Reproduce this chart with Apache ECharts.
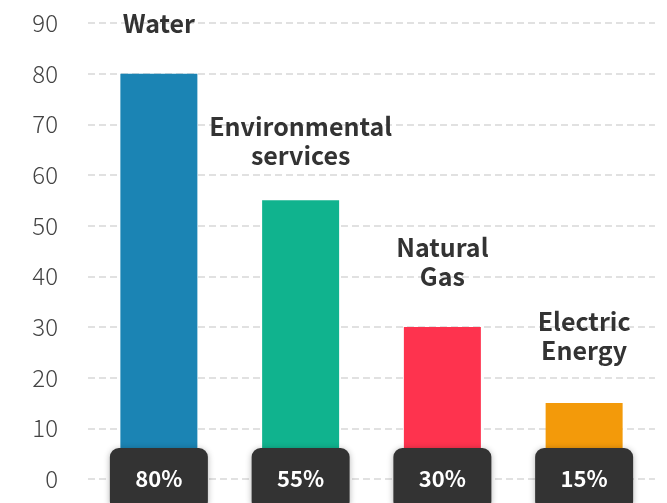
<!DOCTYPE html>
<html><head><meta charset="utf-8">
<script src="https://cdn.jsdelivr.net/npm/echarts@6/dist/echarts.min.js"></script>
<style>html,body{margin:0;padding:0;background:#fff}#c{width:667px;height:503px}</style>
</head><body><div id="c"></div>
<script>
const categories = ['Water', 'Environmental\nservices', 'Natural\nGas', 'Electric\nEnergy'];
const values = [80, 55, 30, 15];
const yTicks = [0, 10, 20, 30, 40, 50, 60, 70, 80, 90];
const colors = ['#1b84b4', '#10b38e', '#fe334e', '#f39a0a'];
const labelGaps = [36, 30, 36, 38];

const FONT = '"Noto Sans CJK SC", "Noto Sans", sans-serif';
const chart = echarts.init(document.getElementById('c'));
chart.setOption({
  animation: false,
  grid: { left: 88, right: 12, top: 23, bottom: 24, containLabel: false, outerBoundsMode: 'none' },
  xAxis: {
    type: 'category',
    data: categories,
    z: 10,
    axisLine: { show: false },
    axisTick: { show: false },
    axisLabel: {
      margin: 0,
      verticalAlign: 'middle',
      formatter: (v, i) => values[i] + '%',
      color: '#fff',
      fontFamily: FONT,
      fontWeight: 'bold',
      fontSize: 22,
      backgroundColor: '#333',
      borderRadius: 9,
      width: 98,
      align: 'center',
      lineHeight: 24,
      padding: [19, 0],
      shadowColor: 'rgba(0,0,0,0.3)',
      shadowBlur: 6,
      shadowOffsetY: 1
    }
  },
  yAxis: {
    type: 'value',
    min: yTicks[0],
    max: yTicks[yTicks.length - 1],
    interval: 10,
    axisLine: { show: false },
    axisTick: { show: false },
    axisLabel: { margin: 30, color: '#444', fontSize: 24, fontFamily: FONT, fontWeight: 300 },
    splitLine: { lineStyle: { color: '#d8d8d8', type: [7, 4], width: 1.5 } }
  },
  series: [{
    type: 'bar',
    barWidth: 77,
    data: values.map((v, i) => ({
      value: v,
      itemStyle: { color: colors[i] },
      label: { distance: labelGaps[i] }
    })),
    label: {
      show: true,
      position: 'top',
      formatter: p => categories[p.dataIndex],
      color: '#333',
      fontFamily: FONT,
      fontWeight: 'bold',
      fontSize: 25,
      lineHeight: 29,
      align: 'center'
    }
  }]
});
</script></body></html>
